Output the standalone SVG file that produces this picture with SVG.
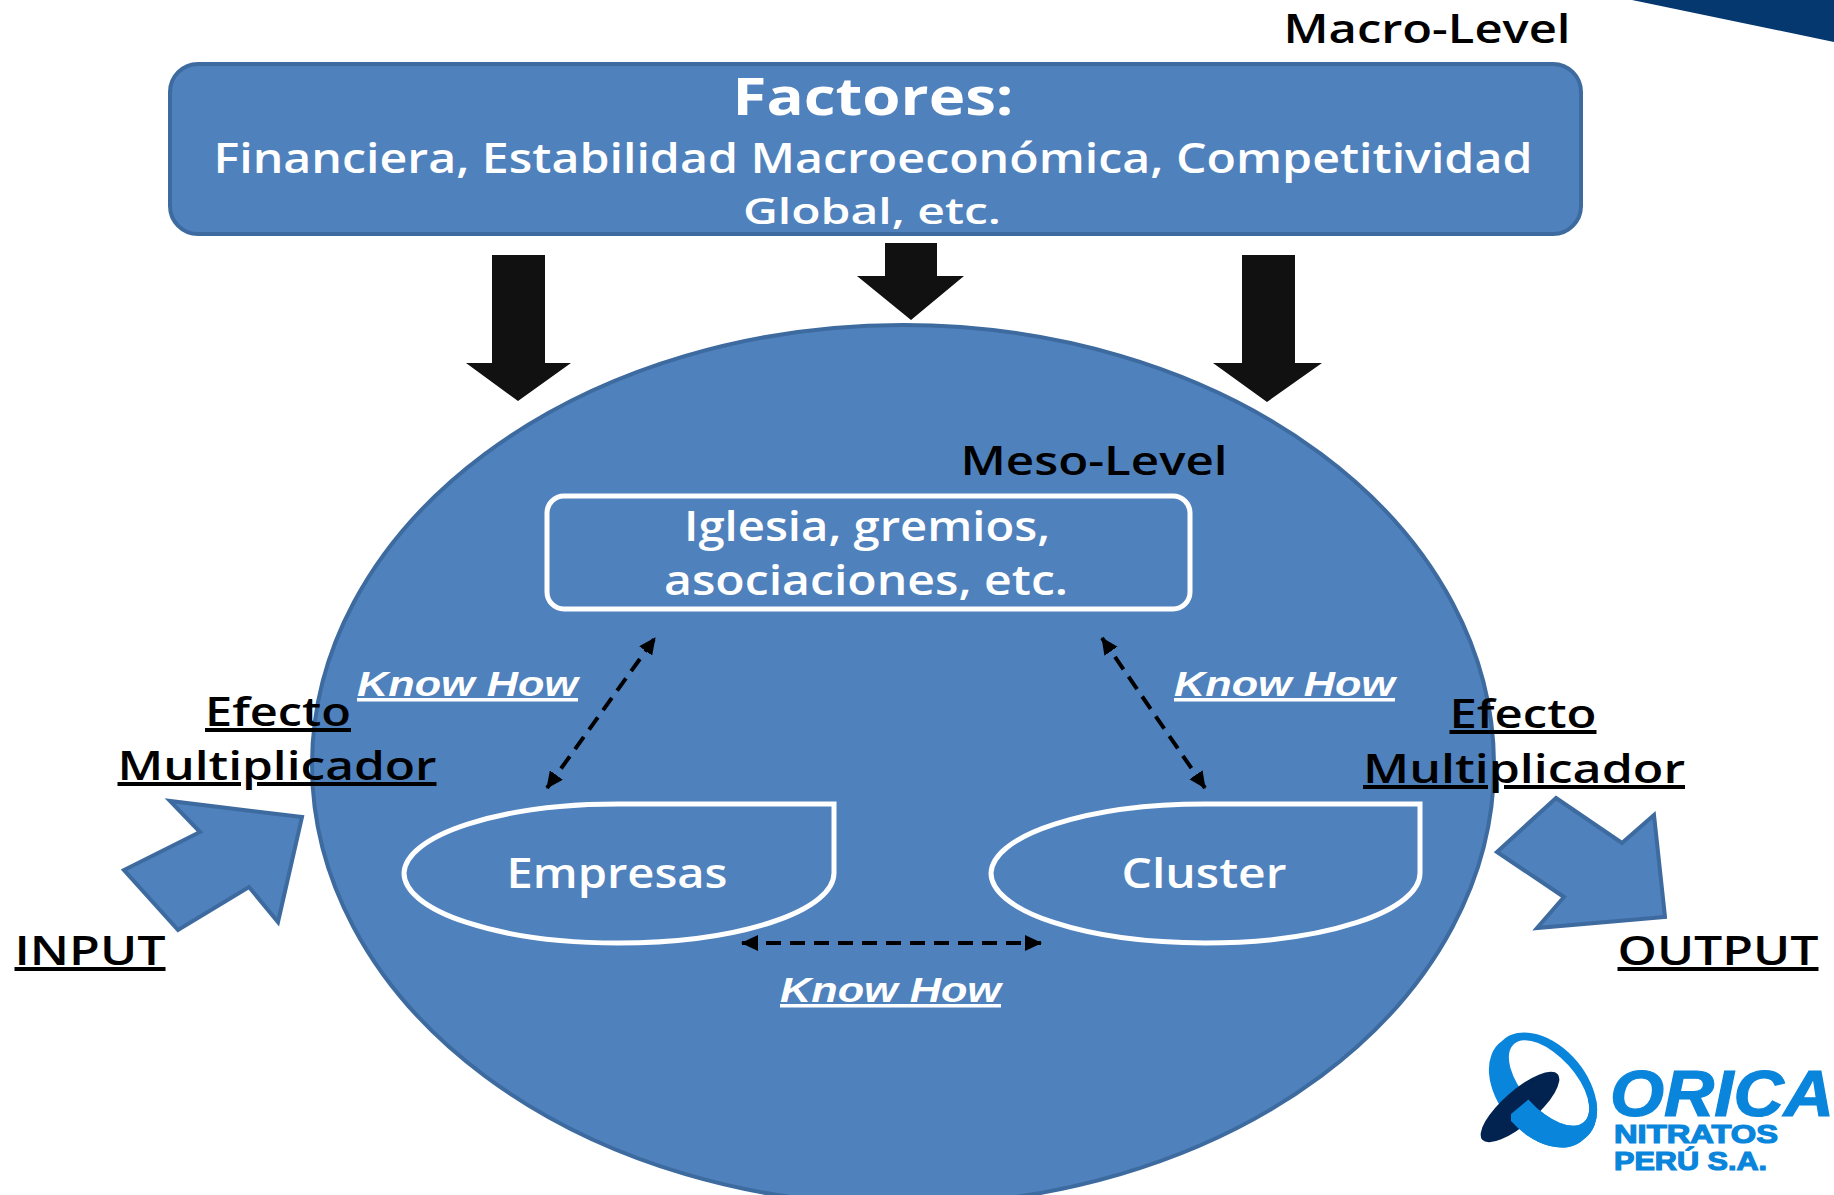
<svg xmlns="http://www.w3.org/2000/svg" width="1834" height="1195" viewBox="0 0 1834 1195">
<style>
text{font-family:"Open Sans","Noto Sans","Liberation Sans",sans-serif}
.shape{fill:#4f81bd;stroke:#3d6a9f;stroke-width:4}
.out{fill:none;stroke:#fff;stroke-width:5}
.w{fill:#fff;text-anchor:middle;font-weight:600}
.k{fill:#000;text-anchor:middle}
.kh{fill:#fff;font-family:"Liberation Sans","Open Sans",sans-serif;font-size:35px;font-weight:700;font-style:italic;text-decoration:underline}
.lbl{font-size:40px;font-weight:600;text-decoration:underline;text-decoration-thickness:6px}
.blk{fill:#111}
.dash{fill:none;stroke:#000;stroke-width:4;stroke-dasharray:15 9;marker-start:url(#a);marker-end:url(#a)}
.lg{fill:#0a85dc;stroke:#0a85dc;stroke-width:1.2;font-family:"Liberation Sans",Arial,sans-serif;font-weight:700}
</style>
<defs>
<marker id="a" markerUnits="userSpaceOnUse" markerWidth="18" markerHeight="16" refX="16" refY="8" orient="auto-start-reverse"><path d="M0 0L17 8L0 16z" fill="#000"/></marker>
<clipPath id="over"><path d="M1511 1114L1529 1099L1610 1099L1610 1170L1511 1170z"/></clipPath>
<path id="ring" fill="#0a85dc" fill-rule="evenodd" d="M1584 1139A64 42 50 1 0 1502 1041A64 42 50 1 0 1584 1139zM1584 1122A52 26 48 1 0 1514 1044A52 26 48 1 0 1584 1122z"/>
</defs>

<g id="corner"><path d="M1632 0H1834V42z" fill="#04386f"/></g>

<g id="macro-label"><text class="k" x="1427" y="43" font-size="40" font-weight="600" textLength="287" lengthAdjust="spacingAndGlyphs">Macro-Level</text></g>

<g id="factores">
<rect class="shape" x="170" y="64" width="1411" height="170" rx="28"/>
<text class="w" x="873" y="115" font-size="52" style="font-weight:700" textLength="281" lengthAdjust="spacingAndGlyphs">Factores:</text>
<text class="w" x="873" y="173" font-size="41" textLength="1319" lengthAdjust="spacingAndGlyphs">Financiera, Estabilidad Macroeconómica, Competitividad</text>
<text class="w" x="872" y="224" font-size="36" textLength="258" lengthAdjust="spacingAndGlyphs">Global, etc.</text>
</g>

<g id="meso">
<ellipse class="shape" cx="903" cy="765" rx="591" ry="440"/>
<text class="k" x="1094" y="475" font-size="40" font-weight="600" textLength="267" lengthAdjust="spacingAndGlyphs">Meso-Level</text>
</g>

<g id="iglesia">
<rect class="out" x="547" y="496" width="643" height="113" rx="17"/>
<text class="w" x="867" y="541" font-size="42" textLength="366" lengthAdjust="spacingAndGlyphs">Iglesia, gremios,</text>
<text class="w" x="866" y="595" font-size="42" textLength="404" lengthAdjust="spacingAndGlyphs">asociaciones, etc.</text>
</g>

<g id="empresas">
<path class="out" d="M618 804H834V873A216 70 0 0 1 618 943A214 70 0 0 1 404 873A214 70 0 0 1 618 804z"/>
<text class="w" x="617" y="888" font-size="42" textLength="221" lengthAdjust="spacingAndGlyphs">Empresas</text>
</g>

<g id="cluster">
<path class="out" d="M1205 804H1420V873A215 70 0 0 1 1205 943A214 70 0 0 1 991 873A214 70 0 0 1 1205 804z"/>
<text class="w" x="1204" y="888" font-size="42" textLength="165" lengthAdjust="spacingAndGlyphs">Cluster</text>
</g>

<g id="connectors">
<path class="blk" d="M492 255H545V363H571L518 401L466 363H492z"/>
<path class="blk" d="M885 243H937V276H964L911 320L857 276H885z"/>
<path class="blk" d="M1242 255H1295V363H1322L1267 402L1213 363H1242z"/>
<path class="dash" d="M547 788L655 638"/>
<path class="dash" d="M1205 788L1102 638"/>
<path class="dash" d="M742 943H1041"/>
<path class="shape" d="M302 817L170 801L200 832L124 870L178 930L249 887L278 922z"/>
<path class="shape" d="M1556 798L1622 843L1654 815L1665 917L1537 928L1564 897L1497 852z"/>
</g>

<g id="labels">
<text class="kh" x="357" y="696" textLength="221" lengthAdjust="spacingAndGlyphs">Know How</text>
<text class="kh" x="1174" y="696" textLength="221" lengthAdjust="spacingAndGlyphs">Know How</text>
<text class="kh" x="780" y="1002" textLength="221" lengthAdjust="spacingAndGlyphs">Know How</text>
<text class="k lbl" x="278" y="726" textLength="146" lengthAdjust="spacingAndGlyphs">Efecto</text>
<text class="k lbl" x="277" y="780" textLength="319" lengthAdjust="spacingAndGlyphs">Multiplicador</text>
<text class="k lbl" x="1523" y="728" textLength="147" lengthAdjust="spacingAndGlyphs">Efecto</text>
<text class="k lbl" x="1524" y="783" textLength="322" lengthAdjust="spacingAndGlyphs">Multiplicador</text>
<text class="k lbl" x="90" y="965" textLength="151" lengthAdjust="spacingAndGlyphs">INPUT</text>
<text class="k lbl" x="1718" y="965" textLength="201" lengthAdjust="spacingAndGlyphs">OUTPUT</text>
</g>

<g id="logo">
<use href="#ring"/>
<ellipse cx="1520" cy="1107" rx="50" ry="17" fill="#02234f" transform="rotate(-41 1520 1107)"/>
<g clip-path="url(#over)"><use href="#ring"/></g>
<text class="lg" x="1610" y="1116" font-size="64" font-style="italic" textLength="224" lengthAdjust="spacingAndGlyphs">ORICA</text>
<text class="lg" x="1614" y="1143" font-size="26" textLength="164" lengthAdjust="spacingAndGlyphs">NITRATOS</text>
<text class="lg" x="1614" y="1170" font-size="26" textLength="153" lengthAdjust="spacingAndGlyphs">PERÚ S.A.</text>
</g>
</svg>
